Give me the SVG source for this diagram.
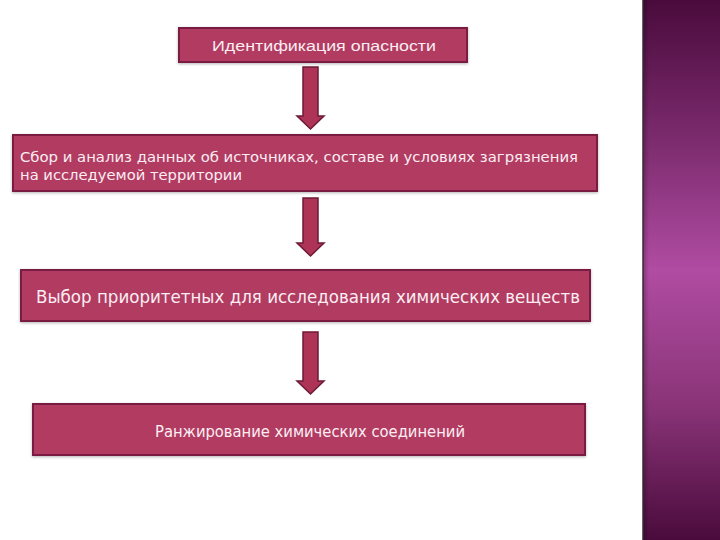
<svg xmlns="http://www.w3.org/2000/svg" width="720" height="540" viewBox="0 0 720 540">
<defs>
<linearGradient id="side" x1="0" y1="0" x2="0" y2="1">
<stop offset="0" stop-color="#4a0b3c"/>
<stop offset="0.25" stop-color="#7a2a6c"/>
<stop offset="0.5" stop-color="#b04ca2"/>
<stop offset="0.75" stop-color="#8a3478"/>
<stop offset="1" stop-color="#4a0b3c"/>
</linearGradient>
<linearGradient id="edge" x1="0" y1="0" x2="1" y2="0">
<stop offset="0" stop-color="#000" stop-opacity="0.25"/>
<stop offset="1" stop-color="#000" stop-opacity="0"/>
</linearGradient>
<filter id="sh" x="-5%" y="-20%" width="110%" height="140%">
<feGaussianBlur in="SourceAlpha" stdDeviation="1.5"/>
<feOffset dx="0" dy="1"/>
<feComponentTransfer><feFuncA type="linear" slope="0.3"/></feComponentTransfer>
<feMerge><feMergeNode/><feMergeNode in="SourceGraphic"/></feMerge>
</filter>
</defs>
<style>
.box{fill:#b23b62;stroke:#7a1f42;stroke-width:2;filter:url(#sh)}
.arr{fill:#ad3456;stroke:#6e1a36;stroke-width:1.5}
.t1{font-family:"Liberation Sans",Arial,sans-serif;fill:#fbeef2}
.t2{font-family:"DejaVu Sans Condensed","DejaVu Sans","Noto Sans",sans-serif;fill:#fbeef2}
</style>
<rect width="720" height="540" fill="#ffffff"/>
<rect x="643" y="0" width="77" height="540" fill="url(#side)"/>
<rect x="643" y="0" width="6" height="540" fill="url(#edge)"/>
<line x1="643" y1="0" x2="643" y2="540" stroke="#3a2a36" stroke-width="1.5"/>

<g id="connectors">
<path class="arr" d="M303,67 H318 V116 H324 L310.5,129 L297,116 H303 Z"/>
<path class="arr" d="M303,198 H318 V243 H324 L310.5,256 L297,243 H303 Z"/>
<path class="arr" d="M303,332 H318 V381 H324 L310.5,394 L297,381 H303 Z"/>
</g>

<g id="node1">
<rect class="box" x="179" y="28" width="288" height="34"/>
<text class="t1" x="212" y="51" font-size="15.5" textLength="224" lengthAdjust="spacingAndGlyphs">Идентификация опасности</text>
</g>
<g id="node2">
<rect class="box" x="13" y="135" width="584" height="56"/>
<text class="t2" x="20" y="162" font-size="14.5" textLength="558" lengthAdjust="spacingAndGlyphs">Сбор и анализ данных об источниках, составе и условиях загрязнения</text>
<text class="t2" x="20" y="180" font-size="14.5" textLength="222" lengthAdjust="spacingAndGlyphs">на исследуемой территории</text>
</g>
<g id="node3">
<rect class="box" x="21" y="270" width="569" height="51"/>
<text class="t2" x="36" y="303" font-size="17" textLength="544" lengthAdjust="spacingAndGlyphs">Выбор приоритетных для исследования химических веществ</text>
</g>
<g id="node4">
<rect class="box" x="33" y="404" width="552" height="51"/>
<text class="t2" x="155" y="437" font-size="15" textLength="310" lengthAdjust="spacingAndGlyphs">Ранжирование химических соединений</text>
</g>
</svg>
